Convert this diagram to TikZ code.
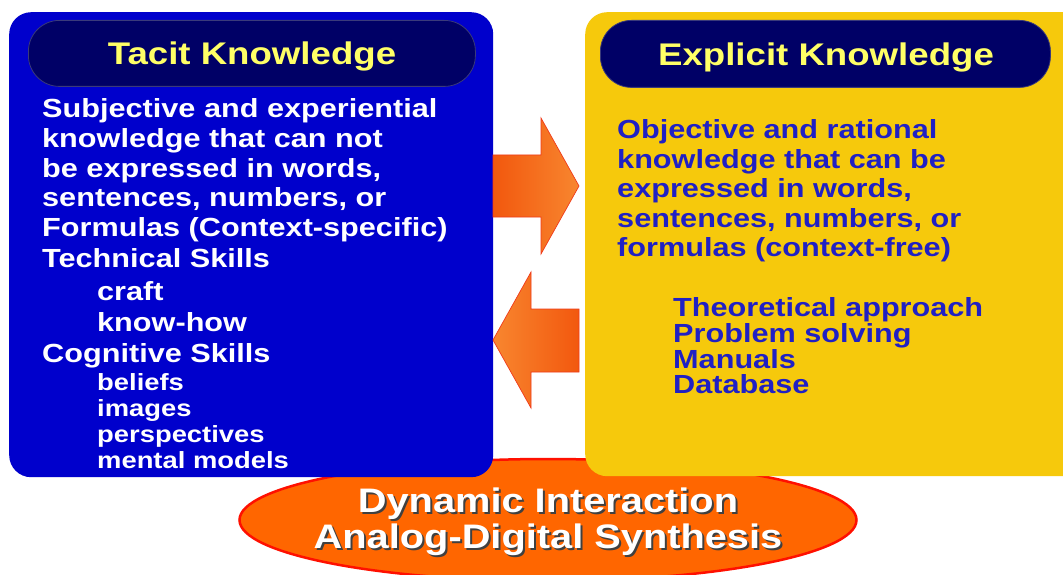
\documentclass[tikz,border=0pt]{standalone}
\usepackage{fontspec}
\usetikzlibrary{shapes.geometric}
\newfontfamily\arx[FakeStretch=1.17]{Liberation Sans}
\definecolor{boxblue}{HTML}{0000CC}
\definecolor{boxyellow}{HTML}{F6C90C}
\definecolor{navy}{HTML}{000066}
\definecolor{navyedge}{HTML}{3A3A7A}
\definecolor{ttlyellow}{HTML}{FFFF66}
\definecolor{rblue}{HTML}{2020C4}
\definecolor{arrdark}{HTML}{F2580E}
\definecolor{arrlight}{HTML}{F8862F}
\definecolor{arredge}{HTML}{F03A1A}
\definecolor{ellorange}{HTML}{FF6600}
\definecolor{ellred}{HTML}{FF1000}
\definecolor{shadowgray}{HTML}{404040}
\tikzset{
  bigbox/.style={rectangle, rounded corners=22pt, anchor=north west, inner sep=0pt},
  pill/.style={rectangle, rounded corners=31pt, fill=navy, draw=navyedge, line width=0.8pt, anchor=north west, inner sep=0pt},
  ttl/.style={anchor=base, inner sep=0pt, text=ttlyellow, font=\arx\bfseries\fontsize{31.3}{36}\selectfont},
  body/.style={anchor=base west, inner sep=0pt, text=white, font=\arx\bfseries\fontsize{26.2}{30}\selectfont},
  small/.style={body, font=\arx\bfseries\fontsize{23.4}{26}\selectfont},
  rbody/.style={body, text=rblue},
  blockarrow/.style={draw=arredge, line width=0.7pt, line join=miter},
  elltext/.style={anchor=base, inner sep=0pt, text=white, font=\arx\bfseries\fontsize{34}{37}\selectfont},
  ellshadow/.style={elltext, text=shadowgray},
}
\begin{document}
\begin{tikzpicture}[x=1pt,y=-1pt]
\useasboundingbox (0,0) rectangle (1063,575);
\clip (0,0) rectangle (1063,575);
\fill[white] (0,0) rectangle (1063,575);

% bottom ellipse
\node (synth) [ellipse, minimum width=617pt, minimum height=122pt, fill=ellorange, draw=ellred, line width=2.5pt] at (548,520) {};

% boxes
\node (tacit) [bigbox, fill=boxblue, minimum width=484pt, minimum height=465pt] at (9,12) {};
\node (explicit) [bigbox, fill=boxyellow, minimum width=500pt, minimum height=464pt] at (585,12) {};

% title pills
\node (tacitpill) [pill, minimum width=447pt, minimum height=66pt] at (28,20) {};
\node (explpill) [pill, minimum width=450pt, minimum height=67pt] at (600,20) {};
\node (tacitttl) [ttl] at (252,65) {Tacit Knowledge};
\node (explttl) [ttl] at (826,66) {Explicit Knowledge};

% block arrows
\path[blockarrow, left color=arrdark, right color=arrlight]
  (493,155) -- (541,155) -- (541,118) -- (579,186) -- (541,254) -- (541,217) -- (493,217) -- cycle;
\path[blockarrow, left color=arrlight, right color=arrdark]
  (579,309) -- (531,309) -- (531,272) -- (493,340) -- (531,408) -- (531,372) -- (579,372) -- cycle;

% tacit body
\node (l1) [body] at (42,118) {Subjective and experiential};
\node (l2) [body] at (42,147.5) {knowledge that can not};
\node (l3) [body] at (42,177) {be expressed in words,};
\node (l4) [body] at (42,206.5) {sentences, numbers, or};
\node (l5) [body] at (42,236) {Formulas (Context-specific)};
\node (l6) [body] at (42,267) {Technical Skills};
\node (l7) [body] at (97,300) {craft};
\node (l8) [body] at (97,331) {know-how};
\node (l9) [body] at (42,362) {Cognitive Skills};
\node (l10) [small] at (97,390) {beliefs};
\node (l11) [small] at (97,416) {images};
\node (l12) [small] at (97,442) {perspectives};
\node (l13) [small] at (97,468) {mental models};

% explicit body
\node (r1) [rbody] at (617,139) {Objective and rational};
\node (r2) [rbody] at (617,168) {knowledge that can be};
\node (r3) [rbody] at (617,197.5) {expressed in words,};
\node (r4) [rbody] at (617,227) {sentences, numbers, or};
\node (r5) [rbody] at (617,256) {formulas (context-free)};
\node (r6) [rbody] at (673,316) {Theoretical approach};
\node (r7) [rbody] at (673,342) {Problem solving};
\node (r8) [rbody] at (673,368) {Manuals};
\node (r9) [rbody] at (673,393) {Database};

% ellipse text with shadow
\node (e1s) [ellshadow] at (550,514.5) {Dynamic Interaction};
\node (e2s) [ellshadow] at (550,550.5) {Analog-Digital Synthesis};
\node (e1) [elltext] at (548,512.5) {Dynamic Interaction};
\node (e2) [elltext] at (548,548.5) {Analog-Digital Synthesis};
\end{tikzpicture}
\end{document}
